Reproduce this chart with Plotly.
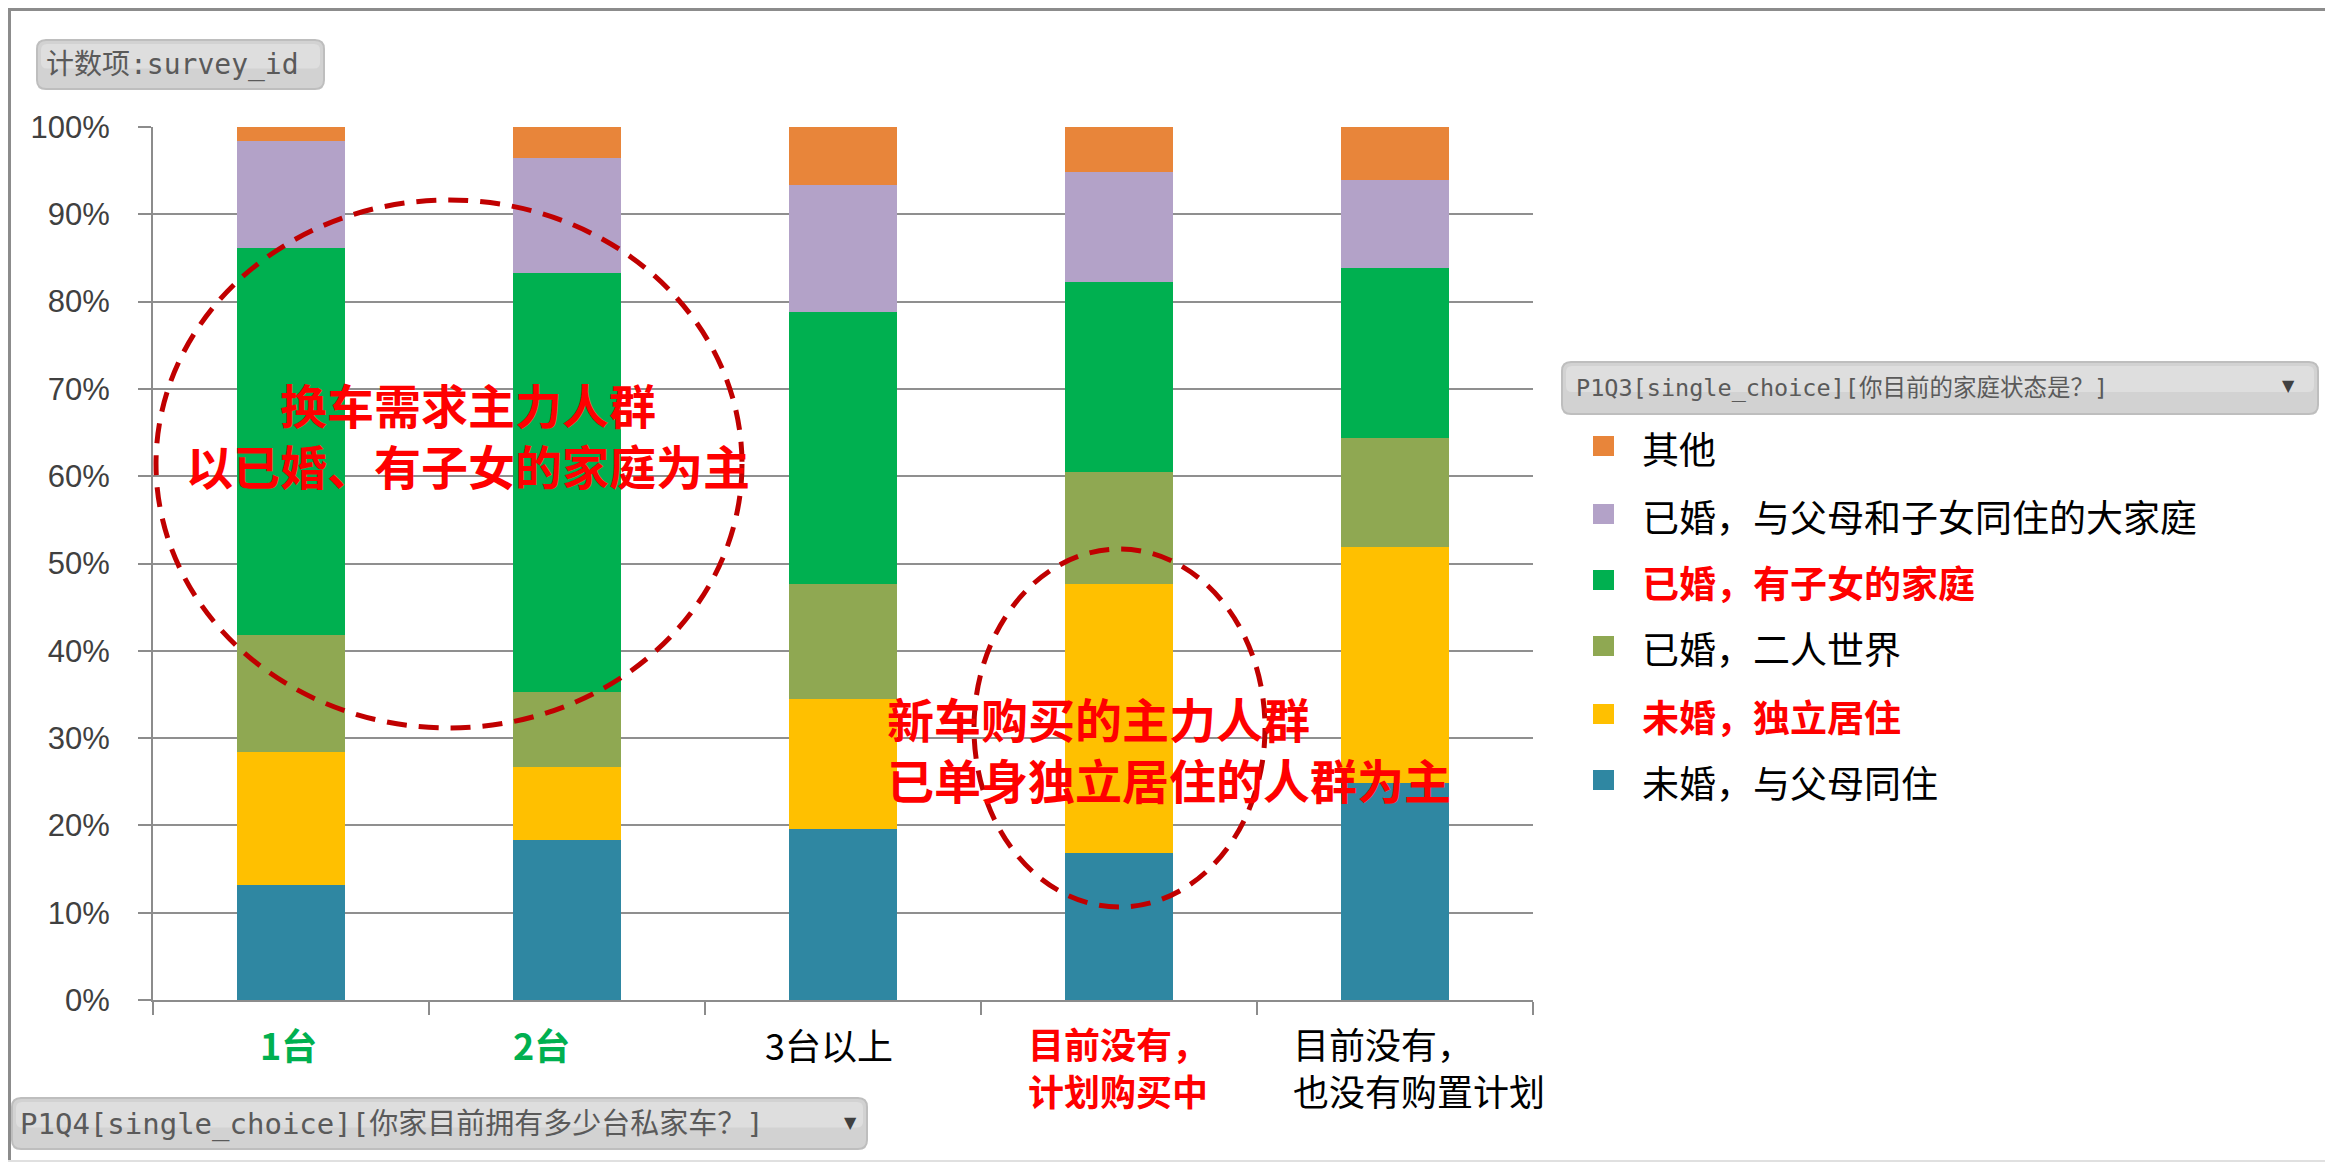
import plotly.graph_objects as go

# ---------------- data ----------------
categories = ["1台", "2台", "3台以上", "目前没有，计划购买中", "目前没有，也没有购置计划"]
series_names = ["未婚，与父母同住", "未婚，独立居住", "已婚，二人世界",
                "已婚，有子女的家庭", "已婚，与父母和子女同住的大家庭", "其他"]
series_colors = ["#2F87A2", "#FFC000", "#8FA852", "#00B050", "#B3A2C8", "#E8853A"]
v_unmarried_parents = [13.2, 18.3, 19.6, 16.8, 24.9]
v_unmarried_alone = [15.2, 8.4, 14.9, 30.9, 27.0]
v_married_two = [13.4, 8.6, 13.1, 12.8, 12.5]
v_married_kids = [44.3, 48.0, 31.2, 21.8, 19.5]
v_married_big = [12.3, 13.2, 14.5, 12.5, 10.0]
v_other = [1.6, 3.5, 6.7, 5.2, 6.1]
series_values = [v_unmarried_parents, v_unmarried_alone, v_married_two,
                 v_married_kids, v_married_big, v_other]
y_ticks = [0, 10, 20, 30, 40, 50, 60, 70, 80, 90, 100]
y_ticktext = [f"{t}%" for t in y_ticks]

x_label_text = ["<b>1台</b>", "<b>2台</b>", "3台以上",
                "<b>目前没有，<br>计划购买中</b>", "目前没有，<br>也没有购置计划"]
x_label_colors = ["#00B050", "#00B050", "#000000", "#FF0000", "#000000"]
legend_bold_red = [False, True, False, True, False, False]  # same order as series_names

# ---------------- geometry helpers (screen pixel -> paper) ----------------
# page body has an 8px margin, so the figure is drawn 8px smaller and offset
SW, SH = 2333, 1167
OFF = 8
L, R, T, B = 153, 1533, 127, 1000          # plot area in screen pixels
FW, FH = SW - OFF, SH - OFF
def px(x):
    return (x - L) / (R - L)
def py(y):
    return (B - y) / (B - T)

CJK = "Noto Sans CJK SC"
MONO = "DejaVu Sans Mono, Noto Sans CJK SC"

fig = go.Figure()
for name, vals, col in zip(series_names, series_values, series_colors):
    fig.add_trace(go.Bar(x=categories, y=vals, name=name, marker_color=col,
                         marker_line_width=0, showlegend=False))

shapes = []
annotations = []

# outer frame
shapes.append(dict(type="line", xref="paper", yref="paper", x0=px(OFF), x1=px(SW), y0=py(OFF + 1.5), y1=py(OFF + 1.5),
                   line=dict(color="#8C8C8C", width=3)))
shapes.append(dict(type="line", xref="paper", yref="paper", x0=px(OFF + 1.5), x1=px(OFF + 1.5), y0=py(OFF), y1=py(1162),
                   line=dict(color="#8C8C8C", width=3)))
shapes.append(dict(type="line", xref="paper", yref="paper", x0=px(OFF), x1=px(SW), y0=py(1161), y1=py(1161),
                   line=dict(color="#E0E0E0", width=2)))

def rrect_path(x0, y0, x1, y1, r):
    X = lambda v: px(v)
    Y = lambda v: py(v)
    return (f"M {X(x0 + r)},{Y(y0)} L {X(x1 - r)},{Y(y0)} Q {X(x1)},{Y(y0)} {X(x1)},{Y(y0 + r)} "
            f"L {X(x1)},{Y(y1 - r)} Q {X(x1)},{Y(y1)} {X(x1 - r)},{Y(y1)} "
            f"L {X(x0 + r)},{Y(y1)} Q {X(x0)},{Y(y1)} {X(x0)},{Y(y1 - r)} "
            f"L {X(x0)},{Y(y0 + r)} Q {X(x0)},{Y(y0)} {X(x0 + r)},{Y(y0)} Z")

def button(x0, y0, x1, y1):
    shapes.append(dict(type="path", xref="paper", yref="paper", path=rrect_path(x0, y0, x1, y1, 9),
                       fillcolor="#D2D2D2", line=dict(color="#BEBEBE", width=2), layer="below"))
    shapes.append(dict(type="path", xref="paper", yref="paper",
                       path=rrect_path(x0 + 4, y0 + 4, x1 - 4, (y0 + y1) / 2 + 4, 6),
                       fillcolor="#DEDEDE", line=dict(width=0), layer="below"))

# top-left field button
button(37, 40, 324, 89)
annotations.append(dict(xref="paper", yref="paper", x=px(44), y=py(65), xanchor="left", yanchor="middle",
                        text="计数项:survey_id", showarrow=False,
                        font=dict(family=MONO, size=28, color="#5A5A5A")))

# bottom field button
button(12, 1098, 867, 1149)
annotations.append(dict(xref="paper", yref="paper", x=px(18), y=py(1124), xanchor="left", yanchor="middle",
                        text="P1Q4[single_choice][你家目前拥有多少台私家车？]", showarrow=False,
                        font=dict(family=MONO, size=29, color="#5A5A5A")))
annotations.append(dict(xref="paper", yref="paper", x=px(850), y=py(1122), xanchor="center", yanchor="middle",
                        text="▼", showarrow=False, font=dict(family="DejaVu Sans", size=16, color="#404040")))

# legend field button
button(1562, 362, 2318, 414)
annotations.append(dict(xref="paper", yref="paper", x=px(1574), y=py(388), xanchor="left", yanchor="middle",
                        text="P1Q3[single_choice][你目前的家庭状态是？]", showarrow=False,
                        font=dict(family=MONO, size=23.5, color="#5A5A5A")))
annotations.append(dict(xref="paper", yref="paper", x=px(2288), y=py(386), xanchor="center", yanchor="middle",
                        text="▼", showarrow=False, font=dict(family="DejaVu Sans", size=16, color="#404040")))

# manual legend (top to bottom = reversed stacking order)
legend_rows_y = [448, 516, 582, 648, 716, 782]
order = list(range(len(series_names)))[::-1]
for row_y, idx in zip(legend_rows_y, order):
    shapes.append(dict(type="rect", xref="paper", yref="paper", x0=px(1593), x1=px(1614),
                       y0=py(row_y + 8), y1=py(row_y - 12),
                       fillcolor=series_colors[idx], line=dict(width=0)))
    name = series_names[idx]
    if legend_bold_red[idx]:
        txt, colr = f"<b>{name}</b>", "#FF0000"
    else:
        txt, colr = name, "#000000"
    annotations.append(dict(xref="paper", yref="paper", x=px(1640), y=py(row_y), xanchor="left",
                            yanchor="middle", text=txt, showarrow=False,
                            font=dict(family=CJK, size=37, color=colr)))

# x category labels
label_pos = [(288, "center", 1044), (541, "center", 1044), (829, "center", 1044),
             (1026, "left", 1066), (1291, "left", 1066)]
for (lx, anc, ly), txt, colr in zip(label_pos, x_label_text, x_label_colors):
    annotations.append(dict(xref="paper", yref="paper", x=px(lx), y=py(ly), xanchor=anc, yanchor="middle",
                            align="left", text=txt, showarrow=False,
                            font=dict(family=CJK, size=36, color=colr)))

# callout ellipses
shapes.append(dict(type="circle", xref="paper", yref="paper", x0=px(156), x1=px(742), y0=py(728), y1=py(200),
                   line=dict(color="#C00000", width=5, dash="20px,12px")))
shapes.append(dict(type="circle", xref="paper", yref="paper", x0=px(974), x1=px(1265), y0=py(907), y1=py(549),
                   line=dict(color="#C00000", width=5, dash="20px,12px")))

# callout texts
callouts = [("换车需求主力人群<br>以已婚、有子女的家庭为主", 468, 434, "center"),
            ("新车购买的主力人群<br>已单身独立居住的人群为主", 885, 748, "left")]
for txt, cx, cy, anc in callouts:
    annotations.append(dict(xref="paper", yref="paper", x=px(cx), y=py(cy), xanchor=anc, yanchor="middle",
                            align=anc, text=f"<b>{txt}</b>", showarrow=False,
                            font=dict(family=CJK, size=47, color="#FF0000")))

fig.update_layout(
    width=FW, height=FH,
    margin=dict(l=L - OFF, r=SW - R, t=T - OFF, b=SH - B, pad=0),
    barmode="stack", bargap=0.61,
    plot_bgcolor="white", paper_bgcolor="white",
    shapes=shapes, annotations=annotations,
    showlegend=False,
    xaxis=dict(type="category", range=[-0.5, 4.5], showticklabels=False,
               ticks="outside", tickson="boundaries", ticklen=13, tickcolor="#8C8C8C", tickwidth=2,
               showline=True, linecolor="#8C8C8C", linewidth=2, showgrid=False, zeroline=False),
    yaxis=dict(range=[0, 100], tickvals=y_ticks, ticktext=y_ticktext,
               ticks="outside", ticklen=13, tickcolor="#8C8C8C", tickwidth=2,
               showline=True, linecolor="#8C8C8C", linewidth=2,
               showgrid=True, gridcolor="#8F8F8F", gridwidth=2, zeroline=False,
               ticklabelstandoff=22,
               tickfont=dict(family="Liberation Sans, Arial", size=31, color="#404040")),
)

fig.write_html("out.html")
